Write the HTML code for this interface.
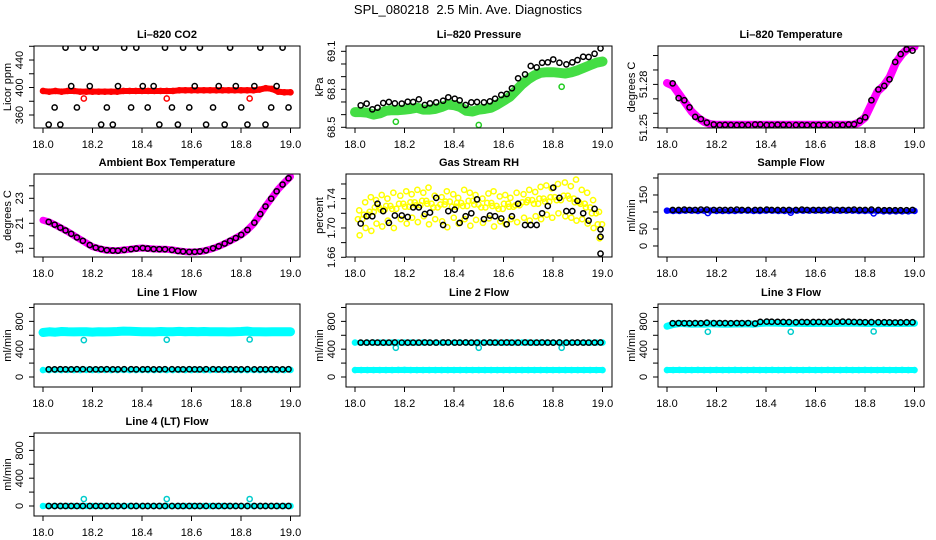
<!DOCTYPE html>
<html><head><meta charset="utf-8"><style>
html,body{margin:0;padding:0;background:#fff;}
svg{display:block;font-family:"Liberation Sans",sans-serif;}
</style></head><body>
<svg id="chart" width="936" height="540" viewBox="0 0 936 540" xmlns="http://www.w3.org/2000/svg">
<rect x="0" y="0" width="936" height="540" fill="#fff"/>
<text x="468" y="14" text-anchor="middle" font-size="13" style="white-space:pre">SPL_080218  2.5 Min. Ave. Diagnostics</text>
</svg>
<script>
// ---- shared time axes ----
const t42 = [18.023,18.047,18.070,18.091,18.114,18.137,18.161,18.189,18.213,18.235,18.258,18.282,18.303,18.328,18.356,18.377,18.403,18.423,18.447,18.470,18.493,18.521,18.545,18.566,18.591,18.613,18.634,18.659,18.687,18.710,18.734,18.756,18.779,18.801,18.826,18.854,18.878,18.899,18.922,18.944,18.968,18.992];
const tDense = [18.0,18.025,18.05,18.075,18.1,18.125,18.15,18.175,18.2,18.225,18.25,18.275,18.3,18.325,18.35,18.375,18.4,18.425,18.45,18.475,18.5,18.525,18.55,18.575,18.6,18.625,18.65,18.675,18.7,18.725,18.75,18.775,18.8,18.825,18.85,18.875,18.9,18.925,18.95,18.975,19.0];
const xTicks = [18.0,18.2,18.4,18.6,18.8,19.0];
const xTickLabels = ["18.0","18.2","18.4","18.6","18.8","19.0"];
const tOut = [18.165,18.5,18.835];

// ---- Li-820 CO2 ----
const co2Black = [346,371,346,458,402,371,458,402,458,346,371,346,402,458,371,458,402,371,402,346,458,371,346,458,371,402,458,346,371,402,346,458,402,371,346,402,458,346,371,402,458,371];
const co2Red = [395,394,395,394,395,395,394,394,394,394,394,394,394,395,395,395,395,395,395,395,395,395,396,396,396,396,396,396,396,396,396,396,396,396,396,397,399,398,394,393,393];
const co2RedOut = [384,384,384];
const co2Ticks = [360,380,400,420,440,460];
const co2Labels = ["360","","400","","440",""];

// ---- Li-820 Pressure ----
const presBlack = [68.673,68.687,68.642,68.655,68.692,68.700,68.689,68.687,68.702,68.700,68.721,68.676,68.689,68.697,68.710,68.737,68.726,68.713,68.676,68.697,68.700,68.697,68.705,68.726,68.755,68.763,68.808,68.887,68.918,68.984,68.973,69.010,69.013,69.036,69.010,68.997,69.013,69.031,69.057,69.055,69.081,69.123];
const presGreen = [68.62,68.62,68.615,68.60,68.61,68.63,68.635,68.635,68.64,68.645,68.655,68.64,68.64,68.645,68.66,68.68,68.675,68.66,68.63,68.625,68.64,68.645,68.655,68.68,68.71,68.74,68.79,68.84,68.88,68.91,68.93,68.935,68.935,68.93,68.925,68.935,68.95,68.97,68.99,69.01,69.02];
const presGreenOut = [68.544,68.518,68.82];
const presTicks = [68.5,68.6,68.7,68.8,68.9,69.0,69.1];
const presLabels = ["68.5","","","68.8","","","69.1"];

// ---- Li-820 Temperature ----
const tempBlack = [51.2807,51.2705,51.2690,51.2641,51.2575,51.2560,51.2535,51.2522,51.2519,51.2520,51.2519,51.2518,51.2519,51.2519,51.2522,51.2522,51.2519,51.2519,51.2521,51.2520,51.2519,51.2519,51.2519,51.2518,51.2518,51.2519,51.2518,51.2519,51.2518,51.2519,51.2522,51.2524,51.2548,51.2572,51.2690,51.2765,51.2790,51.2835,51.2955,51.3010,51.3043,51.3034];
const tempMag = [51.281,51.279,51.273,51.267,51.261,51.257,51.254,51.2525,51.252,51.252,51.252,51.252,51.252,51.252,51.252,51.252,51.252,51.252,51.252,51.252,51.252,51.252,51.252,51.252,51.252,51.252,51.252,51.252,51.252,51.252,51.252,51.2535,51.257,51.266,51.275,51.279,51.285,51.295,51.301,51.305,51.306];
const tempTicks = [51.25,51.26,51.27,51.28,51.29,51.30];
const tempLabels = ["51.25","","","51.28","",""];

// ---- Ambient Box Temperature ----
const ambBlack = [21.11,20.89,20.65,20.43,20.16,19.87,19.6,19.26,19.05,18.94,18.85,18.82,18.81,18.87,18.93,18.98,19.02,18.98,18.94,18.93,18.92,18.87,18.79,18.75,18.71,18.72,18.75,18.83,19.0,19.16,19.38,19.6,19.82,20.08,20.47,21.05,21.74,22.35,22.97,23.56,24.1,24.6];
const ambMag = [21.25,21.1,20.86,20.6,20.33,20.02,19.72,19.42,19.13,18.98,18.86,18.82,18.81,18.86,18.92,18.98,19.02,18.98,18.94,18.93,18.92,18.86,18.78,18.73,18.7,18.73,18.78,18.92,19.08,19.28,19.53,19.78,20.06,20.45,20.94,21.65,22.38,23.05,23.72,24.25,24.73];
const ambTicks = [19,20,21,22,23,24];
const ambLabels = ["19","","21","","23",""];

// ---- Gas Stream RH ----
const rhBlack = [1.706,1.716,1.716,1.733,1.723,1.707,1.717,1.717,1.715,1.728,1.728,1.719,1.721,1.741,1.704,1.723,1.725,1.707,1.716,1.720,1.739,1.712,1.717,1.716,1.713,1.705,1.716,1.733,1.704,1.704,1.704,1.720,1.730,1.755,1.741,1.723,1.723,1.737,1.720,1.710,1.726,1.698];
const rhBlackEnd = [1.688,1.665];
const rhYellowHi = [1.724,1.735,1.742,1.738,1.745,1.740,1.748,1.744,1.750,1.746,1.752,1.748,1.755,1.744,1.742,1.750,1.746,1.741,1.752,1.748,1.745,1.740,1.747,1.750,1.743,1.745,1.741,1.748,1.746,1.752,1.749,1.756,1.758,1.754,1.760,1.762,1.757,1.766,1.752,1.748,1.738,1.722];
const rhYellowMid = [1.712,1.718,1.722,1.728,1.725,1.730,1.726,1.733,1.729,1.735,1.731,1.737,1.733,1.728,1.732,1.736,1.729,1.734,1.730,1.737,1.732,1.728,1.734,1.730,1.726,1.733,1.729,1.731,1.735,1.738,1.733,1.740,1.736,1.742,1.738,1.744,1.740,1.735,1.733,1.728,1.720,1.705];
const rhYellowLo = [1.690,1.700,1.696,1.706,1.702,1.710,1.700,1.712,1.706,1.714,1.708,1.716,1.705,1.712,1.709,1.701,1.714,1.706,1.712,1.703,1.711,1.707,1.713,1.702,1.709,1.705,1.712,1.708,1.714,1.710,1.716,1.712,1.718,1.714,1.720,1.716,1.714,1.710,1.712,1.706,1.700,1.686];
const rhTicks = [1.66,1.68,1.70,1.72,1.74,1.76];
const rhLabels = ["1.66","","1.70","","1.74",""];

// ---- Sample Flow ----
const sfBlack = [106,106,107,106,106,107,107,106,106,106,106,107,106,106,106,106,107,106,106,106,106,106,107,106,106,106,106,107,106,106,106,107,106,106,107,106,105,105,105,105,105,106];
const sfBlue = [104,103,103,104,104,103,104,104,103,103,103,103,104,104,103,103,104,104,103,103,104,104,104,104,104,104,104,104,104,104,104,103,103,103,103,102,102,102,102,102,103];
const sfBlueOut = [97,98,96];
const sfTicks = [0,50,100,150,200];
const sfLabels = ["0","50","","150",""];

// ---- Line flows ----
const flowTicks = [0,200,400,600,800,1000];
const flowLabels = ["0","","400","","800",""];
const l1Black = [110,110,111,110,110,111,112,110,110,110,111,110,110,111,112,110,110,111,110,110,111,112,110,110,111,110,110,111,112,110,110,111,110,110,112,110,110,110,111,110,110,111];
const l1CyanHi = [640,650,645,655,650,648,652,650,646,650,648,652,655,660,658,655,652,650,648,655,650,652,656,650,654,650,655,652,650,650,648,652,655,660,650,652,648,650,652,650,652];
const l1CyanLo = [100,100,102,100,101,100,100,102,100,100,101,100,100,102,100,100,101,100,100,102,100,100,101,100,100,102,100,100,101,100,100,102,100,100,101,100,100,102,100,100,101];
const l1CyanOut = [530,535,540];
const l2Black = [495,495,496,495,494,495,497,495,494,495,495,496,495,495,496,497,495,495,496,494,495,495,497,495,495,496,495,495,497,495,495,496,495,494,497,495,495,496,495,495,495,496];
const l2CyanHi = [495,494,495,496,495,494,495,496,495,495,494,495,496,495,494,495,496,497,495,494,495,496,495,495,494,495,496,495,495,494,495,496,495,495,494,495,496,495,494,495,495];
const l2CyanLo = [100,100,100,100,100,100,100,101,102,100,100,100,100,100,100,100,100,100,100,100,100,100,100,100,100,100,100,100,100,100,100,100,100,100,100,100,100,100,100,100,100];
const l2CyanOut = [420,420,420];
const l3Black = [773,775,774,773,775,774,780,775,776,775,774,776,775,776,770,793,796,795,794,792,790,788,792,790,791,792,790,793,795,796,795,792,790,788,789,788,787,786,785,786,787,788];
const l3CyanHi = [730,755,770,765,760,762,760,765,762,760,760,762,763,765,760,770,775,775,772,770,770,772,770,771,770,772,770,770,772,775,774,772,770,770,768,770,770,769,770,771,772];
const l3CyanLo = [100,100,101,100,100,101,100,100,101,100,100,101,100,100,101,100,100,101,100,100,101,100,100,101,100,100,101,100,100,101,100,100,101,100,100,101,100,100,101,100,100];
const l3CyanOut = [650,650,655];
const l4Black = [0,0,0,0,0,0,0,0,0,0,0,0,0,0,0,0,0,0,0,0,0,0,0,0,0,0,0,0,0,0,0,0,0,0,0,0,0,0,0,0,0,0];
const l4Cyan = [0,0,0,0,0,0,0,0,0,0,0,0,0,0,0,0,0,0,0,0,0,0,0,0,0,0,0,0,0,0,0,0,0,0,0,0,0,0,0,0,0];
const l4CyanOut = [100,100,100];

const svg = document.getElementById('chart');
const NS = 'http://www.w3.org/2000/svg';
const colLeft = [34,346,658];
const rowTop = [46,174,304,433];
const rowH = [82,83,83,83];

function mk(tag, name, attrs, parent) {
  const el = document.createElementNS(NS, tag);
  
  
  for (const k in attrs) el.setAttribute(k, attrs[k]);
  (parent || svg).appendChild(el);
  return el;
}

function panel(id, col, row, title, ylab, ymin, ymax, ticks, labels) {
  const L = colLeft[col], T = rowTop[row], H = rowH[row], W = 266, B = T + H;
  const g = mk('g', id + '-panel', {});
  const clip = mk('clipPath', id + '-clip', {id: id + '-clip'}, g);
  mk('rect', id + '-clip-rect', {x: L, y: T, width: W, height: H}, clip);
  const x = t => L + 9 + (t - 18) * 247.5;
  const y = v => B - (v - ymin) / (ymax - ymin) * H;
  mk('text', id + '-title', {x: L + W / 2, y: T - 8, 'text-anchor': 'middle', 'font-size': 11, 'font-weight': 'bold'}, g).textContent = title;
  const xa = mk('g', id + '-x-axis', {}, g);
  xTicks.forEach((t, i) => {
    mk('line', id + '-x-tick', {x1: x(t), x2: x(t), y1: B, y2: B + 5, stroke: '#000', 'stroke-width': 1}, xa);
    mk('text', id + '-x-tick-label', {x: x(t), y: B + 20, 'text-anchor': 'middle', 'font-size': 11}, xa).textContent = xTickLabels[i];
  });
  const ya = mk('g', id + '-y-axis', {}, g);
  ticks.forEach((v, i) => {
    mk('line', id + '-y-tick', {x1: L - 5, x2: L, y1: y(v), y2: y(v), stroke: '#000', 'stroke-width': 1}, ya);
    if (labels[i]) {
      mk('text', id + '-y-tick-label', {x: L - 11, y: y(v), 'text-anchor': 'middle', 'font-size': 11, transform: 'rotate(-90 ' + (L - 11) + ' ' + y(v) + ')'}, ya).textContent = labels[i];
    }
  });
  mk('text', id + '-y-axis-title', {x: L - 23, y: T + H / 2, 'text-anchor': 'middle', 'font-size': 11, transform: 'rotate(-90 ' + (L - 23) + ' ' + (T + H / 2) + ')'}, g).textContent = ylab;
  const plot = mk('g', id + '-plot-area', {'clip-path': 'url(#' + id + '-clip)'}, g);
  mk('rect', id + '-frame', {x: L, y: T, width: W, height: H, fill: 'none', stroke: '#000', 'stroke-width': 1}, g);
  return {x, y, plot, id};
}

function band(p, name, times, vals, color, width, dx) {
  const off = dx || 0;
  const pts = times.map((t, i) => p.x(t + off).toFixed(1) + ',' + p.y(vals[i]).toFixed(1)).join(' ');
  mk('polyline', p.id + '-' + name + '-band', {points: pts, fill: 'none', stroke: color, 'stroke-width': width, 'stroke-linejoin': 'round', 'stroke-linecap': 'round'}, p.plot);
  times.forEach((t, i) => {
    mk('circle', p.id + '-' + name + '-point', {cx: p.x(t + off), cy: p.y(vals[i]), r: 2.6, fill: 'none', stroke: color, 'stroke-width': 1.4}, p.plot);
  });
}
function pts(p, name, times, vals, color, dx) {
  const off = dx || 0;
  times.forEach((t, i) => {
    mk('circle', p.id + '-' + name + '-point', {cx: p.x(t + off), cy: p.y(vals[i]), r: 2.6, fill: 'none', stroke: color, 'stroke-width': 1.5}, p.plot);
  });
}

// CO2
let p = panel('co2', 0, 0, 'Li\u2013820 CO2', 'Licor ppm', 341.1, 460.4, co2Ticks, co2Labels);
band(p, 'co2-red', tDense, co2Red, '#ff0000', 6);
pts(p, 'co2-red-outlier', tOut, co2RedOut, '#ff0000');
pts(p, 'co2-black', t42, co2Black, '#000');

// Pressure
p = panel('pressure', 1, 0, 'Li\u2013820 Pressure', 'kPa', 68.4945, 69.142, presTicks, presLabels);
band(p, 'pressure-green', tDense, presGreen, '#44dd44', 10);
pts(p, 'pressure-green-outlier', tOut, presGreenOut, '#22cc22');
pts(p, 'pressure-black', t42, presBlack, '#000');

// Temperature
p = panel('li820-temp', 2, 0, 'Li\u2013820 Temperature', 'degrees C', 51.2498, 51.3066, tempTicks, tempLabels);
band(p, 'temp-magenta', tDense, tempMag, '#ff00ff', 8);
pts(p, 'temp-black', t42, tempBlack, '#000');

// Ambient
p = panel('ambient', 0, 1, 'Ambient Box Temperature', 'degrees C', 18.304, 24.944, ambTicks, ambLabels);
band(p, 'ambient-magenta', tDense, ambMag, '#ff00ff', 7);
pts(p, 'ambient-black', t42, ambBlack, '#000');

// RH
p = panel('rh', 1, 1, 'Gas Stream RH', 'percent', 1.6604, 1.7736, rhTicks, rhLabels);
pts(p, 'rh-yellow-hi', t42, rhYellowHi, '#ffff00', -0.006);
pts(p, 'rh-yellow-mid', t42, rhYellowMid, '#ffff00', 0.006);
pts(p, 'rh-yellow-lo', t42, rhYellowLo, '#ffff00', -0.004);
pts(p, 'rh-yellow-hi2', t42, rhYellowMid, '#ffff00', -0.011);
pts(p, 'rh-black', t42, rhBlack, '#000');
pts(p, 'rh-black-end', [18.992,18.992], rhBlackEnd, '#000');

// Sample flow
p = panel('sample-flow', 2, 1, 'Sample Flow', 'ml/min', -32.4, 211.7, sfTicks, sfLabels);
band(p, 'sample-blue', tDense, sfBlue, '#0000ff', 5);
pts(p, 'sample-blue-outlier', tOut, sfBlueOut, '#0000ff');
pts(p, 'sample-black', t42, sfBlack, '#000');

// Line 1
p = panel('line1', 0, 2, 'Line 1 Flow', 'ml/min', -143.9, 1050, flowTicks, flowLabels);
band(p, 'line1-cyan-hi', tDense, l1CyanHi, '#00ffff', 9);
band(p, 'line1-cyan-lo', tDense, l1CyanLo, '#00ffff', 5);
pts(p, 'line1-cyan-outlier', tOut, l1CyanOut, '#00cccc');
pts(p, 'line1-black', t42, l1Black, '#000');

// Line 2
p = panel('line2', 1, 2, 'Line 2 Flow', 'ml/min', -143.9, 1050, flowTicks, flowLabels);
band(p, 'line2-cyan-hi', tDense, l2CyanHi, '#00ffff', 5);
band(p, 'line2-cyan-lo', tDense, l2CyanLo, '#00ffff', 6);
pts(p, 'line2-cyan-outlier', tOut, l2CyanOut, '#00cccc');
pts(p, 'line2-black', t42, l2Black, '#000');

// Line 3
p = panel('line3', 2, 2, 'Line 3 Flow', 'ml/min', -143.9, 1050, flowTicks, flowLabels);
band(p, 'line3-cyan-hi', tDense, l3CyanHi, '#00ffff', 7);
band(p, 'line3-cyan-lo', tDense, l3CyanLo, '#00ffff', 6);
pts(p, 'line3-cyan-outlier', tOut, l3CyanOut, '#00cccc');
pts(p, 'line3-black', t42, l3Black, '#000');

// Line 4
p = panel('line4', 0, 3, 'Line 4 (LT) Flow', 'ml/min', -143.9, 1050, flowTicks, flowLabels);
band(p, 'line4-cyan', tDense, l4Cyan, '#00ffff', 5);
pts(p, 'line4-cyan-outlier', tOut, l4CyanOut, '#00cccc');
pts(p, 'line4-black', t42, l4Black, '#000');
</script>
</body></html>
